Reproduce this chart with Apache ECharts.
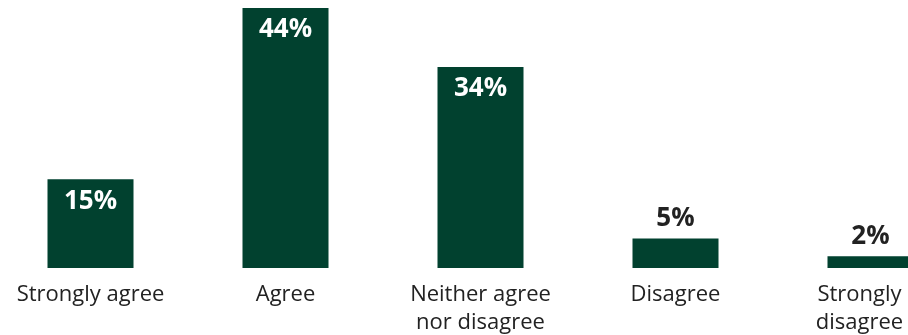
<!DOCTYPE html>
<html>
<head>
<meta charset="utf-8">
<script src="https://cdn.jsdelivr.net/npm/echarts@6/dist/echarts.min.js"></script>
<style>
  html, body { margin: 0; padding: 0; background: #ffffff; overflow: hidden; width: 908px; height: 335px; }
  /* plot area is a little wider than the page so the first and last columns sit near the edges */
  #chart { position: absolute; left: -7px; top: 0; width: 975px; height: 335px; }
</style>
</head>
<body>
<div id="chart"></div>
<script>
// Survey response shares (%)
const categories = ['Strongly agree', 'Agree', 'Neither agree\nnor disagree', 'Disagree', 'Strongly\ndisagree'];
const shares = [15, 44, 34, 5, 2];

const barColor = '#01412f';
const textColor = '#222222';
const labelFont = 'Open Sans';

// Short bars get their value label above the bar, tall ones inside
const seriesData = shares.map(function (v) {
  const inside = v >= 10;
  return {
    value: v,
    label: inside
      ? { position: 'insideTop', distance: 9, color: '#ffffff' }
      : { position: 'top', distance: 7, color: textColor }
  };
});

const chart = echarts.init(document.getElementById('chart'), null, { renderer: 'canvas' });
chart.setOption({
  animation: false,
  grid: { left: 0, right: 0, top: 8, bottom: 67, outerBoundsMode: 'none', containLabel: false },
  xAxis: {
    type: 'category',
    data: categories,
    axisLine: { show: false },
    axisTick: { show: false },
    axisLabel: {
      margin: 13,
      interval: 0,
      color: textColor,
      fontFamily: labelFont,
      fontSize: 22,
      lineHeight: 28,
      // keep the right-most label inside the page edge
      formatter: function (value, index) {
        if (index !== categories.length - 1) return value;
        return value.split('\n').map(function (s) { return '{edge|' + s + '}'; }).join('\n');
      },
      rich: {
        edge: {
          color: textColor,
          fontFamily: labelFont,
          fontSize: 22,
          lineHeight: 28,
          padding: [0, 22, 0, 0]
        }
      }
    }
  },
  yAxis: {
    type: 'value',
    min: 0,
    max: 44,
    show: false,
    splitLine: { show: false }
  },
  series: [{
    type: 'bar',
    data: seriesData,
    barWidth: 86,
    itemStyle: { color: barColor },
    label: {
      show: true,
      formatter: '{c}%',
      fontFamily: labelFont,
      fontWeight: 'bold',
      fontSize: 26
    }
  }]
});
</script>
</body>
</html>
